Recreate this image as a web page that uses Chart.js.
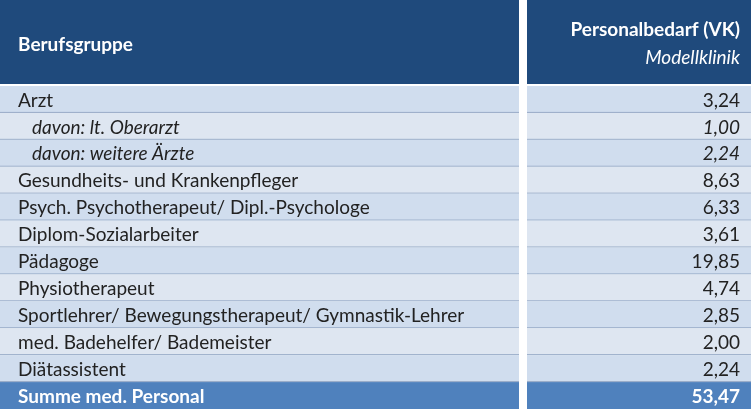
<!DOCTYPE html>
<html><head><meta charset="utf-8">
<script src="https://cdn.jsdelivr.net/npm/chart.js@4"></script>
<style>html,body{margin:0;padding:0;background:#fff}#c{display:block}</style>
</head><body>
<div style="width:751px;height:410px"><canvas id="c"></canvas></div>
<script>
var categories = ['Arzt', 'davon: lt. Oberarzt', 'davon: weitere Ärzte', 'Gesundheits- und Krankenpfleger',
  'Psych. Psychotherapeut/ Dipl.-Psychologe', 'Diplom-Sozialarbeiter', 'Pädagoge', 'Physiotherapeut',
  'Sportlehrer/ Bewegungstherapeut/ Gymnastik-Lehrer', 'med. Badehelfer/ Bademeister', 'Diätassistent'];
var values = [3.24, 1.00, 2.24, 8.63, 6.33, 3.61, 19.85, 4.74, 2.85, 2.00, 2.24];
var subRows = [1, 2];
var totalLabel = 'Summe med. Personal';
var totalValue = 53.47;

var FONT = 'Lato, "Noto Sans", sans-serif';
function fmt(v) { return v.toFixed(2).replace('.', ','); }

var tablePlugin = {
  id: 'table',
  beforeDatasetsDraw: function(chart) {
    var ctx = chart.ctx, y = chart.scales.y;
    var L0 = 0, L1 = 519, R0 = 527, R1 = 751;
    var step = y.getPixelForValue(1) - y.getPixelForValue(0);
    ctx.save();
    // header
    ctx.fillStyle = '#1F4A7C';
    ctx.fillRect(L0, 0, L1 - L0, 84);
    ctx.fillRect(R0, 0, R1 - R0, 84);
    ctx.fillStyle = '#fff';
    ctx.textBaseline = 'middle';
    ctx.font = 'bold 19px ' + FONT;
    ctx.textAlign = 'left';
    ctx.fillText('Berufsgruppe', 18, 45);
    ctx.textAlign = 'right';
    ctx.fillText('Personalbedarf (VK)', 740, 30);
    ctx.font = 'italic 19px ' + FONT;
    ctx.fillText('Modellklinik', 740, 58);
    // rows
    var n = categories.length + 1;
    for (var i = 0; i < n; i++) {
      var cy = y.getPixelForValue(i);
      var top = cy - step / 2;
      var isTotal = i === n - 1;
      ctx.fillStyle = isTotal ? '#4F81BD' : (i % 2 === 0 ? '#D0DDEE' : '#DEE6F1');
      ctx.fillRect(L0, top, L1 - L0, step);
      ctx.fillRect(R0, top, R1 - R0, step);
      if (!isTotal) {
        ctx.fillStyle = '#95A9C6';
        ctx.fillRect(L0, top + step - 1, L1 - L0, 1);
        ctx.fillRect(R0, top + step - 1, R1 - R0, 1);
      }
      var sub = subRows.indexOf(i) >= 0;
      ctx.fillStyle = isTotal ? '#fff' : '#222';
      ctx.font = (isTotal ? 'bold ' : sub ? 'italic ' : '') + '19px ' + FONT;
      ctx.textAlign = 'left';
      ctx.fillText(isTotal ? totalLabel : categories[i], sub ? 32 : 18, cy + 1);
      ctx.textAlign = 'right';
      ctx.fillText(fmt(isTotal ? totalValue : values[i]), 740, cy + 1);
    }
    ctx.restore();
  }
};

new Chart(document.getElementById('c'), {
  type: 'bar',
  data: {
    labels: categories.concat([totalLabel]),
    datasets: [{ data: values.concat([totalValue]), backgroundColor: 'rgba(0,0,0,0)' }]
  },
  options: {
    indexAxis: 'y',
    responsive: true,
    maintainAspectRatio: false,
    animation: false,
    layout: { padding: { top: 86, bottom: 1, left: 0, right: 0 } },
    plugins: { legend: { display: false }, tooltip: { enabled: false } },
    scales: { x: { display: false }, y: { display: false } }
  },
  plugins: [tablePlugin]
});
</script>
</body></html>
